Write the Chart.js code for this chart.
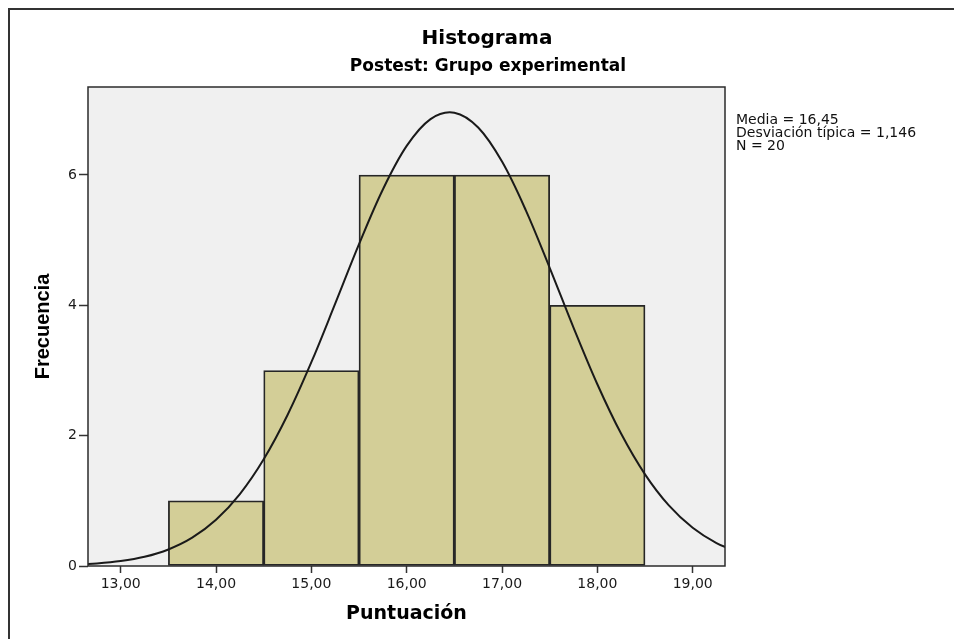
<!DOCTYPE html>
<html>
<head>
<meta charset="utf-8">
<title>Histograma</title>
<script src="https://cdn.jsdelivr.net/npm/chart.js@4.4.1/dist/chart.umd.min.js"></script>
<style>
    html, body { margin: 0; padding: 0; background: #fff; }
    canvas { display: block; }
</style>
</head>
<body>
<canvas id="myChart" width="954" height="639"></canvas>
<script>
// histogram bins (centre of each bin, width 1) and counts
const binCenters = [14, 15, 16, 17, 18];
const frequencies = [1, 3, 6, 6, 4];

// normal curve
const curveX = [12.5, 12.75, 13, 13.25, 13.5, 13.75, 14, 14.25, 14.5, 14.75, 15, 15.25, 15.5, 15.75,
    16, 16.25, 16.5, 16.75, 17, 17.25, 17.5, 17.75, 18, 18.25, 18.5, 18.75, 19, 19.25, 19.5];
const curveY = [0.018, 0.038, 0.075, 0.141, 0.254, 0.434, 0.708, 1.103, 1.637, 2.317, 3.127, 4.025, 4.938, 5.778,
    6.446, 6.858, 6.956, 6.728, 6.205, 5.457, 4.576, 3.659, 2.789, 2.028, 1.406, 0.929, 0.586, 0.352, 0.202];

const xTicks = [13, 14, 15, 16, 17, 18, 19];
const xTickLabels = ['13,00', '14,00', '15,00', '16,00', '17,00', '18,00', '19,00'];
const yTicks = [0, 2, 4, 6];
const yTickLabels = ['0', '2', '4', '6'];

const statsLines = ['Media = 16,45', 'Desviación típica = 1,146', 'N = 20'];

const decor = {
    id: 'decor',
    beforeDraw(chart) {
        const ctx = chart.ctx;
        const a = chart.chartArea;
        ctx.save();
        ctx.fillStyle = '#ffffff';
        ctx.fillRect(0, 0, chart.width, chart.height);
        ctx.fillStyle = '#f0f0f0';
        ctx.fillRect(a.left, a.top, a.right - a.left, a.bottom - a.top);
        ctx.restore();
    },
    afterDraw(chart) {
        const ctx = chart.ctx;
        const a = chart.chartArea;
        ctx.save();
        // plot frame
        ctx.strokeStyle = '#2b2b2b';
        ctx.lineWidth = 1.5;
        ctx.strokeRect(a.left, a.top, a.right - a.left, a.bottom - a.top);
        // outer frame (top + left)
        ctx.fillStyle = '#333333';
        ctx.fillRect(8, 8, chart.width - 8, 2);
        ctx.fillRect(8, 8, 2, chart.height - 8);
        // titles
        ctx.fillStyle = '#000';
        ctx.textAlign = 'center';
        ctx.textBaseline = 'alphabetic';
        ctx.font = 'bold 20px "DejaVu Sans"';
        ctx.fillText('Histograma', 487, 44);
        ctx.font = 'bold 17px "DejaVu Sans"';
        ctx.fillText('Postest: Grupo experimental', 488, 71);
        // stats text
        ctx.textAlign = 'left';
        ctx.font = '14px "DejaVu Sans"';
        ctx.fillStyle = '#111';
        statsLines.forEach((t, i) => ctx.fillText(t, 736, 124 + i * 13));
        ctx.restore();
    }
};

const ctx = document.getElementById('myChart').getContext('2d');
const histChart = new Chart(ctx, {
    type: 'bar',
    data: {
        datasets: [
            {
                type: 'line',
                label: 'Normal',
                data: curveX.map((x, i) => ({x: x, y: curveY[i]})),
                borderColor: '#1a1a1a',
                borderWidth: 2,
                pointRadius: 0,
                tension: 0.35,
                fill: false,
                order: 0
            },
            {
                type: 'bar',
                label: 'Frecuencia',
                data: binCenters.map((x, i) => ({x: x, y: frequencies[i]})),
                backgroundColor: '#d3ce97',
                borderColor: '#262626',
                borderWidth: 1.8,
                borderSkipped: false,
                barPercentage: 1,
                categoryPercentage: 1,
                order: 1
            }
        ]
    },
    options: {
        responsive: false,
        animation: false,
        devicePixelRatio: 1,
        layout: { padding: { left: 0, right: 229, top: 87, bottom: 0 } },
        plugins: {
            legend: { display: false },
            tooltip: { enabled: false },
            title: { display: false }
        },
        scales: {
            x: {
                type: 'linear',
                min: 12.657,
                max: 19.339,
                offset: false,
                grid: {
                    offset: false,
                    drawOnChartArea: false,
                    drawTicks: true,
                    tickLength: 7,
                    tickWidth: 1.5,
                    tickColor: '#333'
                },
                border: { display: false },
                afterBuildTicks: s => { s.ticks = xTicks.map(v => ({value: v})); },
                ticks: {
                    autoSkip: false,
                    maxRotation: 0,
                    padding: 3,
                    color: '#1a1a1a',
                    font: { family: 'DejaVu Sans', size: 14 },
                    callback: (v, i) => xTickLabels[i]
                },
                title: {
                    display: true,
                    text: 'Puntuación',
                    color: '#000',
                    font: { family: 'DejaVu Sans', size: 19, weight: 'bold' },
                    padding: { top: 0, bottom: 14 }
                },
                afterFit: s => { s.height = 73; }
            },
            y: {
                min: 0,
                max: 7.35,
                grid: {
                    drawOnChartArea: false,
                    drawTicks: true,
                    tickLength: 9,
                    tickWidth: 1.5,
                    tickColor: '#333'
                },
                border: { display: false },
                afterBuildTicks: s => { s.ticks = yTicks.map(v => ({value: v})); },
                ticks: {
                    padding: 2,
                    color: '#1a1a1a',
                    font: { family: 'DejaVu Sans', size: 14 },
                    callback: (v, i) => yTickLabels[i]
                },
                title: {
                    display: true,
                    text: 'Frecuencia',
                    color: '#000',
                    font: { family: 'Liberation Sans', size: 20, weight: 'bold' },
                    padding: { top: 31, bottom: 0 }
                },
                afterFit: s => { s.width = 88; }
            }
        }
    },
    plugins: [decor]
});
console.log("Loaded");
</script>
</body>
</html>
